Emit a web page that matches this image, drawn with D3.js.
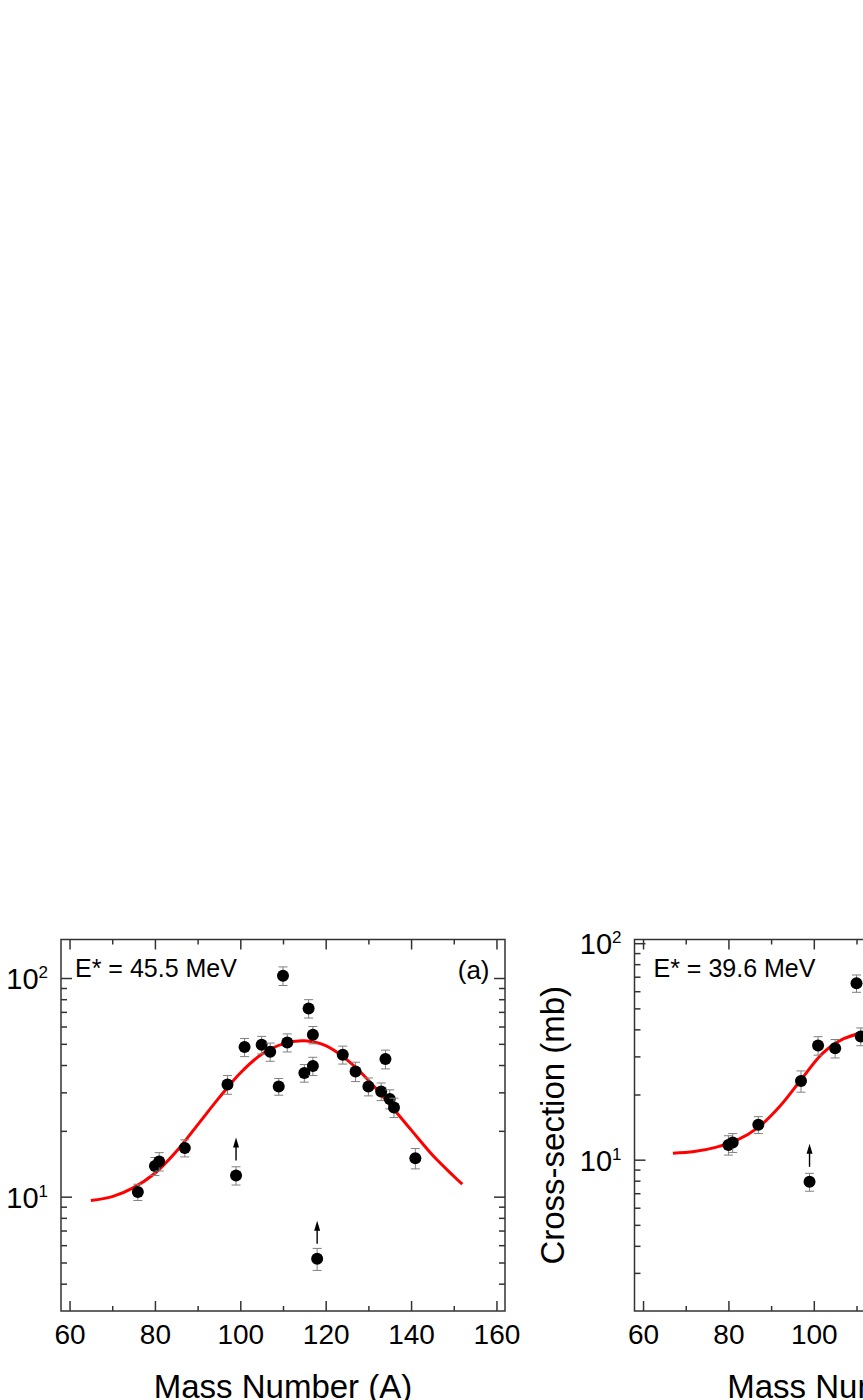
<!DOCTYPE html>
<html>
<head>
<meta charset="utf-8">
<script src="https://cdn.jsdelivr.net/npm/d3@7"></script>
<style>
  body { margin: 0; background: #fff; }
  svg { display: block; font-family: "Liberation Sans", Arial, sans-serif; }
  .frame { fill: none; stroke: #333; stroke-width: 1.5; }
  .axis path { display: none; }
  .axis line { stroke: #333; stroke-width: 1.5; }
  .axis text { fill: #000; font-size: 28px; font-family: "Liberation Sans", Arial, sans-serif; }
  .yaxis text { font-size: 29px; }
  .fit { fill: none; stroke: #ff0000; stroke-width: 3; }
  .err { stroke: #808080; stroke-width: 1; }
  .dot { fill: #000; }
  .arrow { stroke: #000; stroke-width: 1.4; }
  .note { font-size: 25px; fill: #000; }
  .tag { font-size: 26px; fill: #000; }
  .title { font-size: 33px; fill: #000; }
</style>
</head>
<body>
<svg class="chart"></svg>
<script>
// DATA /////////////////////////////////////////
// panel (a), E* = 45.5 MeV
const massA = [76, 80, 81, 87, 97, 99, 101, 105, 107, 109, 110, 111, 115, 116, 117, 117, 118, 124, 127, 130, 133, 134, 135, 136, 141];
const csA = [10.5, 13.8, 14.5, 16.7, 32.6, 12.5, 48.3, 49.5, 46, 31.9, 102.4, 50.7, 36.8, 72.6, 55, 39.6, 5.2, 44.6, 37.4, 31.9, 30.3, 42.6, 28, 25.6, 15.0];
const errA = [0.9, 1.3, 1.4, 1.5, 3.2, 1.2, 4.6, 4.6, 4.4, 2.8, 10, 4.8, 3.4, 7, 5, 3.8, 0.6, 4.2, 3.8, 3, 2.8, 4.2, 2.8, 2.6, 1.6];
const arrowA = [99, 118];
const fitMassA = [65, 70, 75, 80, 85, 90, 95, 100, 105, 110, 115, 120, 125, 130, 135, 140, 145, 150, 152];
const fitCsA = [9.6, 10.0, 11.0, 12.8, 16.1, 21.3, 28.3, 36.8, 44.8, 50.0, 51.6, 49.0, 42.2, 34.1, 26.4, 20.2, 15.5, 12.4, 11.4];

// panel (b), E* = 39.6 MeV
const massB = [80, 81, 87, 97, 99, 101, 105, 110, 111];
const csB = [11.7, 12.0, 14.5, 23.1, 7.9, 33.7, 32.7, 65.3, 37.1];
const errB = [1.2, 1.2, 1.3, 2.6, 0.75, 3.3, 3.2, 6, 3.5];
const arrowB = [99];
const fitMassB = [67, 72, 77, 82, 87, 92, 97, 102, 107, 112, 117];
const fitCsB = [10.7, 10.9, 11.4, 12.3, 14.1, 17.6, 23.4, 30.9, 36.2, 38.7, 39.6];

// ticks
const xMajor = [60, 80, 100, 120, 140, 160];
const xMinor = [70, 90, 110, 130, 150];
const yMajor = [10, 100];
const yMinorA = [4, 5, 6, 7, 8, 9, 20, 30, 40, 50, 60, 70, 80, 90];
const yMinorB = [3, 4, 5, 6, 7, 8, 9, 20, 30, 40, 50, 60, 70, 80, 90];

// DEFINITIONS //////////////////////////////////
const width = 444;
const height = 371.5;

const svg = d3.select(".chart").attr("width", 863).attr("height", 1400);

const supLabels = (g) => {
  g.selectAll(".tick text").each(function (d) {
    const t = d3.select(this);
    t.text(null).attr("dy", "0.36em");
    t.append("tspan").text("10");
    t.append("tspan").attr("dy", "-11").style("font-size", "17px").text(Math.round(Math.log10(d)));
  });
};

// DRAW ONE PANEL ///////////////////////////////
const drawPanel = (p) => {
  const x = d3.scaleLinear().domain([58, 162]).range([0, width]);
  const y = d3.scaleLog().domain(p.yDomain).range([height, 0]);

  const g = svg.append("g").attr("transform", `translate(${p.left}, ${p.top})`);

  // axes, ticks pointing inside
  g.append("g").attr("class", "axis").attr("transform", `translate(0, ${height})`)
    .call(d3.axisBottom(x).tickValues(xMajor).tickSize(-10).tickPadding(13).tickFormat(d3.format("d")));
  g.append("g").attr("class", "axis").attr("transform", `translate(0, ${height})`)
    .call(d3.axisBottom(x).tickValues(xMinor).tickSize(-5).tickFormat(""));
  g.append("g").attr("class", "axis")
    .call(d3.axisTop(x).tickValues(xMajor).tickSize(-10).tickFormat(""));
  g.append("g").attr("class", "axis")
    .call(d3.axisTop(x).tickValues(xMinor).tickSize(-5).tickFormat(""));

  g.append("g").attr("class", "axis yaxis")
    .call(d3.axisLeft(y).tickValues(yMajor).tickSize(-11).tickPadding(13))
    .call(supLabels);
  g.append("g").attr("class", "axis")
    .call(d3.axisLeft(y).tickValues(p.yMinor).tickSize(-6).tickFormat(""));
  g.append("g").attr("class", "axis").attr("transform", `translate(${width}, 0)`)
    .call(d3.axisRight(y).tickValues(yMajor).tickSize(-11).tickFormat(""));
  g.append("g").attr("class", "axis").attr("transform", `translate(${width}, 0)`)
    .call(d3.axisRight(y).tickValues(p.yMinor).tickSize(-6).tickFormat(""));

  g.append("rect").attr("class", "frame").attr("width", width).attr("height", height);

  // fit curve
  const fitLine = d3.line()
    .x((d) => x(d[0]))
    .y((d) => y(d[1]))
    .curve(d3.curveCatmullRom.alpha(0.5));
  g.append("path").attr("class", "fit").attr("d", fitLine(d3.zip(p.fitMass, p.fitCs)));

  // data with error bars
  const pts = p.mass.map((m, i) => ({ m, v: p.cs[i], e: p.err[i] }));
  const ptG = g.selectAll(".pt").data(pts).join("g").attr("class", "pt");
  ptG.append("line").attr("class", "err")
    .attr("x1", (d) => x(d.m)).attr("x2", (d) => x(d.m))
    .attr("y1", (d) => y(d.v - d.e)).attr("y2", (d) => y(d.v + d.e));
  ptG.append("line").attr("class", "err")
    .attr("x1", (d) => x(d.m) - 4.5).attr("x2", (d) => x(d.m) + 4.5)
    .attr("y1", (d) => y(d.v - d.e)).attr("y2", (d) => y(d.v - d.e));
  ptG.append("line").attr("class", "err")
    .attr("x1", (d) => x(d.m) - 4.5).attr("x2", (d) => x(d.m) + 4.5)
    .attr("y1", (d) => y(d.v + d.e)).attr("y2", (d) => y(d.v + d.e));
  ptG.append("circle").attr("class", "dot")
    .attr("cx", (d) => x(d.m)).attr("cy", (d) => y(d.v)).attr("r", 6);

  // lower-limit arrows
  const arrowPts = pts.filter((d) => p.arrows.includes(d.m));
  arrowPts.forEach((d) => {
    const ax = x(d.m);
    const ay = y(d.v);
    g.append("line").attr("class", "arrow")
      .attr("x1", ax).attr("x2", ax).attr("y1", ay - 15).attr("y2", ay - 30);
    g.append("path").attr("fill", "#000")
      .attr("d", `M${ax},${ay - 38} L${ax - 3},${ay - 28} L${ax + 3},${ay - 28} Z`);
  });

  // texts
  g.append("text").attr("class", "note").attr("x", p.noteX).attr("y", 37).text(p.note);
  if (p.tag) {
    g.append("text").attr("class", "tag").attr("x", width - 15.5).attr("y", 39)
      .attr("text-anchor", "end").text(p.tag);
  }
  g.append("text").attr("class", "title").attr("x", width / 2).attr("y", height + 87)
    .attr("text-anchor", "middle").text("Mass Number (A)");
  if (p.yTitle) {
    g.append("text").attr("class", "title")
      .attr("transform", `translate(-70.5, ${height / 2}) rotate(-90)`)
      .attr("text-anchor", "middle").text(p.yTitle);
  }
};

drawPanel({
  left: 61, top: 939.5, yDomain: [3, 150], yMinor: yMinorA,
  mass: massA, cs: csA, err: errA, arrows: arrowA,
  fitMass: fitMassA, fitCs: fitCsA,
  note: "E* = 45.5 MeV", noteX: 14, tag: "(a)"
});

drawPanel({
  left: 634.5, top: 939.5, yDomain: [2, 104], yMinor: yMinorB,
  mass: massB, cs: csB, err: errB, arrows: arrowB,
  fitMass: fitMassB, fitCs: fitCsB,
  note: "E* = 39.6 MeV", noteX: 19, tag: "(b)", yTitle: "Cross-section (mb)"
});
</script>
</body>
</html>
